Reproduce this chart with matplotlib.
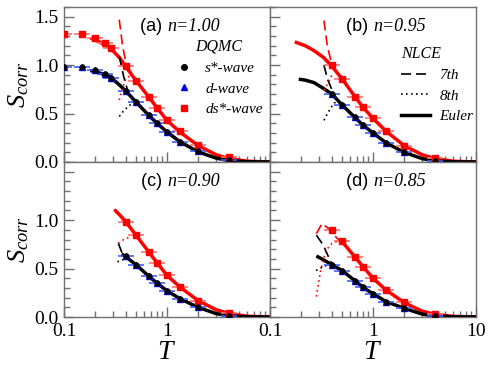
import numpy as np
import matplotlib
matplotlib.use("Agg")
import matplotlib.pyplot as plt
from matplotlib.lines import Line2D
from matplotlib.ticker import FixedLocator, NullFormatter, MultipleLocator

plt.rcParams['font.family'] = ['Liberation Serif', 'DejaVu Serif']
plt.rcParams['mathtext.fontset'] = 'custom'
plt.rcParams['mathtext.rm'] = 'Liberation Serif'
plt.rcParams['mathtext.it'] = 'Liberation Serif:italic'

# ---------------- data ----------------
panel_labels = ["(a)", "(b)", "(c)", "(d)"]
densities = ["n=1.00", "n=0.95", "n=0.90", "n=0.85"]

# DQMC temperatures
T_dqmc_a = [0.1, 0.15, 0.2, 0.25, 0.286, 0.4, 0.5, 0.667, 0.8, 1.0, 1.333, 2.0, 4.0]
T_dqmc = [0.4, 0.5, 0.667, 0.8, 1.0, 1.333, 2.0, 4.0]

# ds*-wave (red) DQMC
ds_a = [1.32, 1.32, 1.28, 1.23, 1.18, 0.99, 0.84, 0.67, 0.56, 0.43, 0.32, 0.18, 0.05]
ds_b = [1.00, 0.86, 0.675, 0.565, 0.45, 0.32, 0.17, 0.045]
ds_c = [0.98, 0.845, 0.67, 0.56, 0.43, 0.31, 0.17, 0.045]
ds_d = [0.90, 0.78, 0.62, 0.52, 0.40, 0.28, 0.15, 0.035]
# d-wave (blue) DQMC
d_a = [0.98, 0.98, 0.95, 0.91, 0.87, 0.73, 0.62, 0.48, 0.40, 0.31, 0.21, 0.11, 0.02]
d_b = [0.70, 0.59, 0.46, 0.38, 0.30, 0.20, 0.10, 0.01]
d_c = [0.63, 0.54, 0.42, 0.35, 0.27, 0.19, 0.10, 0.01]
d_d = [0.54, 0.48, 0.375, 0.305, 0.24, 0.16, 0.09, 0.01]
# s*-wave (black) DQMC, nearly identical to d-wave
s_a = [0.98, 0.98, 0.95, 0.91, 0.87, 0.73, 0.62, 0.48, 0.40, 0.31, 0.21, 0.11, 0.02]
s_b = [0.70, 0.59, 0.46, 0.38, 0.30, 0.20, 0.10, 0.01]
s_c = [0.63, 0.54, 0.42, 0.35, 0.27, 0.19, 0.10, 0.01]
s_d = [0.54, 0.48, 0.375, 0.305, 0.24, 0.16, 0.09, 0.01]

# NLCE Euler curves
T_eul_tail = [0.5, 0.667, 0.8, 1.0, 1.333, 2.0, 3.0, 4.0, 6.0, 10.0]
eul_red_a_T = [0.18, 0.22, 0.28, 0.35, 0.4] + T_eul_tail
eul_red_a = [1.28, 1.24, 1.18, 1.07, 0.98, 0.84, 0.67, 0.56, 0.43, 0.31, 0.17, 0.075, 0.035, 0.008, 0.0]
eul_blk_a_T = [0.18, 0.22, 0.28, 0.35, 0.4] + T_eul_tail
eul_blk_a = [0.945, 0.92, 0.88, 0.79, 0.73, 0.62, 0.48, 0.40, 0.31, 0.21, 0.105, 0.04, 0.015, 0.003, 0.0]

eul_red_b_T = [0.174, 0.22, 0.267, 0.33, 0.39] + T_eul_tail
eul_red_b = [1.24, 1.20, 1.15, 1.08, 1.00, 0.86, 0.675, 0.565, 0.45, 0.32, 0.17, 0.075, 0.035, 0.008, 0.0]
eul_blk_b_T = [0.19, 0.22, 0.267, 0.33, 0.4] + T_eul_tail
eul_blk_b = [0.855, 0.845, 0.82, 0.76, 0.70, 0.59, 0.46, 0.38, 0.30, 0.20, 0.10, 0.035, 0.012, 0.002, 0.0]

eul_red_c_T = [0.308, 0.35, 0.4] + T_eul_tail
eul_red_c = [1.11, 1.05, 0.98, 0.845, 0.67, 0.56, 0.43, 0.31, 0.17, 0.075, 0.035, 0.008, 0.0]
eul_blk_c_T = [0.363, 0.4] + T_eul_tail
eul_blk_c = [0.65, 0.62, 0.54, 0.42, 0.35, 0.27, 0.19, 0.10, 0.035, 0.012, 0.002, 0.0]

eul_red_d_T = [0.46] + T_eul_tail
eul_red_d = [0.80, 0.78, 0.62, 0.52, 0.40, 0.28, 0.15, 0.06, 0.028, 0.006, 0.0]
eul_blk_d_T = [0.282, 0.33, 0.4] + T_eul_tail
eul_blk_d = [0.63, 0.59, 0.54, 0.48, 0.375, 0.305, 0.24, 0.16, 0.09, 0.03, 0.01, 0.002, 0.0]

# NLCE 7th order (dashed) and 8th order (dotted), low-T divergent pieces
d7_red = {'a': ([0.344, 0.37, 0.4, 0.45], [1.47, 1.2, 1.02, 0.92]),
          'b': ([0.334, 0.36, 0.4, 0.45], [1.46, 1.2, 1.0, 0.93]),
          'c': ([0.31, 0.35, 0.4], [1.11, 1.05, 0.98]),
          'd': ([0.282, 0.32, 0.374, 0.45, 0.5], [0.86, 0.965, 0.91, 0.81, 0.78])}
d7_blk = {'a': ([0.344, 0.38, 0.42, 0.46], [1.09, 0.88, 0.72, 0.64]),
          'b': ([0.334, 0.36, 0.42, 0.46], [1.0, 0.86, 0.69, 0.63]),
          'c': ([0.337, 0.37], [0.76, 0.65]),
          'd': ([0.282, 0.33, 0.37, 0.4], [0.845, 0.74, 0.62, 0.55])}
d8_red = {'a': ([0.344, 0.37, 0.4, 0.45], [0.64, 0.76, 0.86, 0.90]),
          'b': ([0.334, 0.37, 0.4], [0.74, 0.82, 0.90]),
          'c': ([0.337, 0.38, 0.45], [0.76, 0.80, 0.83]),
          'd': ([0.282, 0.31, 0.35, 0.4, 0.47], [0.21, 0.48, 0.69, 0.76, 0.79])}
d8_blk = {'a': ([0.344, 0.38, 0.45, 0.5], [0.47, 0.53, 0.60, 0.62]),
          'b': ([0.334, 0.37, 0.42, 0.47], [0.43, 0.52, 0.61, 0.62]),
          'c': ([0.33, 0.37, 0.4], [0.57, 0.59, 0.61]),
          'd': ([0.28, 0.33, 0.37, 0.4], [0.48, 0.52, 0.54, 0.54])}

panels = {
    'a': dict(T=T_dqmc_a, ds=ds_a, d=d_a, s=s_a, er=(eul_red_a_T, eul_red_a), eb=(eul_blk_a_T, eul_blk_a)),
    'b': dict(T=T_dqmc, ds=ds_b, d=d_b, s=s_b, er=(eul_red_b_T, eul_red_b), eb=(eul_blk_b_T, eul_blk_b)),
    'c': dict(T=T_dqmc, ds=ds_c, d=d_c, s=s_c, er=(eul_red_c_T, eul_red_c), eb=(eul_blk_c_T, eul_blk_c)),
    'd': dict(T=T_dqmc, ds=ds_d, d=d_d, s=s_d, er=(eul_red_d_T, eul_red_d), eb=(eul_blk_d_T, eul_blk_d)),
}

# ---------------- figure ----------------
fig = plt.figure(figsize=(4.91, 3.74), dpi=100)
gs = fig.add_gridspec(2, 2, left=64/491, right=476/491, bottom=1-317/374, top=1-7/374,
                      wspace=0, hspace=0)
axes = {'a': fig.add_subplot(gs[0, 0]), 'b': fig.add_subplot(gs[0, 1]),
        'c': fig.add_subplot(gs[1, 0]), 'd': fig.add_subplot(gs[1, 1])}

RED = '#ff0000'
BLUE = '#0000ee'
spine_col = '#707070'
errfac = 1.19

for i, key in enumerate(['a', 'b', 'c', 'd']):
    ax = axes[key]
    p = panels[key]
    T = np.array(p['T'])
    xerr = [T - T / errfac, T * errfac - T]
    # NLCE
    ax.plot(*p['er'], color=RED, lw=2.5, zorder=3, solid_capstyle='butt')
    ax.plot(*p['eb'], color='black', lw=2.5, zorder=3, solid_capstyle='butt')
    ax.plot(*d7_red[key], color=RED, lw=1.2, ls=(0, (6, 3)), zorder=3)
    ax.plot(*d7_blk[key], color='black', lw=1.2, ls=(0, (6, 3)), zorder=3)
    ax.plot(*d8_red[key], color=RED, lw=1.2, ls=(0, (1, 2)), zorder=3)
    ax.plot(*d8_blk[key], color='black', lw=1.2, ls=(0, (1, 2)), zorder=3)
    # DQMC
    ax.errorbar(T, p['ds'], xerr=xerr, fmt='s', ms=4, color=RED, ecolor='#ff7070',
                elinewidth=1.2, capsize=0, zorder=4)
    ax.errorbar(T, p['d'], xerr=xerr, fmt='^', ms=4, color=BLUE, ecolor='#4060ff',
                elinewidth=1.2, capsize=0, zorder=4)
    ax.plot(T, p['s'], 'o', ms=3.5, color='black', zorder=5)

    ax.set_xscale('log')
    ax.set_xlim(0.1, 10)
    ax.set_ylim(0, 1.6)
    ax.yaxis.set_major_locator(FixedLocator([0.0, 0.5, 1.0, 1.5]))
    ax.yaxis.set_minor_locator(MultipleLocator(0.1))
    ax.tick_params(which='both', direction='in', top=False, right=False, colors=spine_col,
                   labelcolor='black', labelsize=14, pad=4)
    ax.tick_params(which='major', length=7, width=1)
    ax.tick_params(which='minor', length=4, width=1)
    for sp in ax.spines.values():
        sp.set_color(spine_col)
        sp.set_linewidth(1.0)
    ax.xaxis.set_major_locator(FixedLocator([0.1, 1, 10]))
    ax.xaxis.set_minor_locator(FixedLocator([k * 10.0**e for e in (-1, 0) for k in range(2, 10)]))
    ax.xaxis.set_minor_formatter(NullFormatter())

    ax.text(0.5, 0.875, panel_labels[i] + ' ', transform=ax.transAxes, ha='right', va='center',
            fontsize=13, family=['Liberation Sans', 'DejaVu Sans'])
    ax.text(0.5, 0.875, densities[i], transform=ax.transAxes, ha='left', va='center',
            fontsize=13, style='italic')

# tick labels
for key in ['a', 'b']:
    axes[key].tick_params(labelbottom=False)
for key in ['b', 'd']:
    axes[key].tick_params(labelleft=False)
axes['a'].set_yticklabels(['0.0', '0.5', '1.0', '1.5'])
axes['c'].set_yticklabels(['0.0', '0.5', '1.0', ''])
axes['c'].set_xticklabels(['0.1', '1', ''])
axes['d'].set_xticklabels(['0.1', '1', '10'])

for key in ['a', 'c']:
    axes[key].set_ylabel('$S_{corr}$', fontsize=19, labelpad=2)
for key in ['c', 'd']:
    axes[key].set_xlabel('$T$', fontsize=20, labelpad=0)

# legends
h_dqmc = [Line2D([], [], marker='o', ls='none', color='black', ms=4),
          Line2D([], [], marker='^', ls='none', color=BLUE, ms=4),
          Line2D([], [], marker='s', ls='none', color=RED, ms=4)]
leg1 = axes['a'].legend(h_dqmc, ['s*-wave', 'd-wave', 'ds*-wave'], title='DQMC',
                        loc='upper left', bbox_to_anchor=(0.5, 0.845), frameon=False,
                        prop={'style': 'italic', 'size': 11}, handlelength=1.2,
                        handletextpad=0.8, labelspacing=0.45, borderpad=0)
leg1.get_title().set_fontstyle('italic')
leg1.get_title().set_fontsize(11.5)

h_nlce = [Line2D([], [], color='black', lw=1.2, ls=(0, (6, 3))),
          Line2D([], [], color='black', lw=1.2, ls=(0, (1, 2))),
          Line2D([], [], color='black', lw=2.5)]
leg2 = axes['b'].legend(h_nlce, ['7th', '8th', 'Euler'], title='NLCE',
                        loc='upper left', bbox_to_anchor=(0.6, 0.8), frameon=False,
                        prop={'style': 'italic', 'size': 11}, handlelength=1.9,
                        handletextpad=0.6, labelspacing=0.45, borderpad=0)
leg2.get_title().set_fontstyle('italic')
leg2.get_title().set_fontsize(11.5)
leg2._legend_box.align = 'left'

fig.savefig('out.png', dpi=100)
